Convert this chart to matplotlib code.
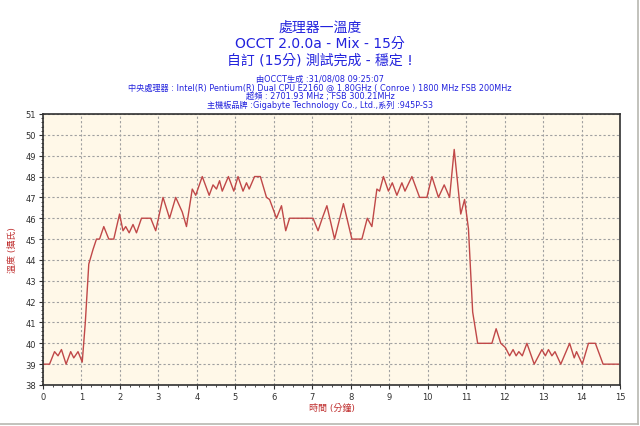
import matplotlib
matplotlib.use("Agg")
import matplotlib.pyplot as plt
from matplotlib.ticker import MultipleLocator
from matplotlib.lines import Line2D

plt.rcParams['font.family'] = ['DejaVu Sans', 'Noto Sans CJK TC']

time_min = [0.0, 0.17, 0.3, 0.39, 0.48, 0.6, 0.72, 0.8, 0.91, 1.02, 1.1, 1.19, 1.3, 1.39, 1.47,
            1.58, 1.71, 1.84, 1.99, 2.08, 2.15, 2.24, 2.34, 2.43, 2.56, 2.8, 2.93, 3.12, 3.29,
            3.45, 3.62, 3.73, 3.88, 3.97, 4.14, 4.32, 4.42, 4.51, 4.59, 4.66, 4.82, 4.96, 5.07,
            5.2, 5.29, 5.36, 5.5, 5.65, 5.81, 5.89, 6.07, 6.2, 6.31, 6.41, 7.02, 7.15, 7.26,
            7.38, 7.58, 7.81, 8.03, 8.29, 8.43, 8.55, 8.68, 8.75, 8.85, 8.98, 9.08, 9.2, 9.33,
            9.41, 9.59, 9.79, 9.98, 10.11, 10.28, 10.43, 10.57, 10.69, 10.86, 10.96, 11.06,
            11.17, 11.3, 11.67, 11.78, 11.9, 12.02, 12.13, 12.22, 12.3, 12.37, 12.46, 12.58,
            12.77, 12.97, 13.06, 13.14, 13.23, 13.31, 13.46, 13.69, 13.81, 13.87, 14.02, 14.18,
            14.36, 14.56, 14.96]
temp_c = [39.0, 39.0, 39.6, 39.4, 39.7, 39.0, 39.6, 39.3, 39.6, 39.1, 41.0, 43.8, 44.5, 45.0, 45.0,
          45.6, 45.0, 45.0, 46.2, 45.4, 45.6, 45.3, 45.7, 45.3, 46.0, 46.0, 45.4, 47.0, 46.0,
          47.0, 46.3, 45.6, 47.4, 47.1, 48.0, 47.1, 47.6, 47.4, 47.8, 47.3, 48.0, 47.3, 48.0,
          47.3, 47.7, 47.4, 48.0, 48.0, 47.0, 46.9, 46.0, 46.6, 45.4, 46.0, 46.0, 45.4, 46.0,
          46.6, 45.0, 46.7, 45.0, 45.0, 46.0, 45.6, 47.4, 47.3, 48.0, 47.3, 47.7, 47.1, 47.7,
          47.3, 48.0, 47.0, 47.0, 48.0, 47.0, 47.6, 47.0, 49.3, 46.2, 46.9, 45.5,
          41.5, 40.0, 40.0, 40.7, 40.0, 39.8, 39.4, 39.7, 39.4, 39.6, 39.4, 40.0,
          39.0, 39.7, 39.4, 39.7, 39.4, 39.6, 39.0, 40.0, 39.3, 39.6, 39.0, 40.0,
          40.0, 39.0, 39.0]

title_lines = ["處理器一溫度", "OCCT 2.0.0a - Mix - 15分", "自訂 (15分) 測試完成 - 穩定 !"]
info_lines = ["由OCCT生成 :31/08/08 09:25:07",
              "中央處理器 : Intel(R) Pentium(R) Dual CPU E2160 @ 1.80GHz ( Conroe ) 1800 MHz FSB 200MHz",
              "超頻 : 2701.93 MHz ; FSB 300.21MHz",
              "主機板品牌 :Gigabyte Technology Co., Ltd.,系列 :945P-S3"]
x_label = "時間 (分鐘)"
y_label = "溫度 (攝氏)"

fig = plt.figure(figsize=(6.4, 4.27), dpi=100, facecolor='white')
ax = fig.add_axes([43/640, 41/427, 577/640, 271/427])
ax.set_facecolor('#FFF8E8')
ax.plot(time_min, temp_c, color='#C04848', lw=1.0, solid_joinstyle='round')
ax.set_xlim(0, 15)
ax.set_ylim(38, 51)
ax.xaxis.set_major_locator(MultipleLocator(1))
ax.xaxis.set_minor_locator(MultipleLocator(0.25))
ax.yaxis.set_major_locator(MultipleLocator(1))
ax.yaxis.set_minor_locator(MultipleLocator(0.2))
ax.grid(True, which='major', color='#A0A0A0', ls=(0, (2, 2)), lw=0.8)
ax.tick_params(which='major', labelsize=6, length=3, colors='#303030', pad=2)
ax.tick_params(which='minor', length=1.5, colors='#303030')
for s in ax.spines.values():
    s.set_color('#303030')
    s.set_linewidth(1.2)

ax.set_xlabel(x_label, color='#C03030', fontsize=6.5, labelpad=1)
ax.set_ylabel(y_label, color='#C03030', fontsize=6.5, labelpad=6)

blue = '#2222DD'
ys = [28, 44, 61]
for t, y in zip(title_lines, ys):
    fig.text(320/640, 1 - y/427, t, ha='center', va='center', color=blue, fontsize=10)
ys2 = [79, 88, 97, 106]
for t, y in zip(info_lines, ys2):
    fig.text(320/640, 1 - y/427, t, ha='center', va='center', color=blue, fontsize=5.9)

fig.add_artist(Line2D([637.5/640, 637.5/640], [2.5/427, 1], color='#B8B8B0', lw=1.2, transform=fig.transFigure))
fig.add_artist(Line2D([0, 637.5/640], [2.5/427, 2.5/427], color='#B8B8B0', lw=1.2, transform=fig.transFigure))

fig.savefig('out.png', dpi=100, facecolor='white')
